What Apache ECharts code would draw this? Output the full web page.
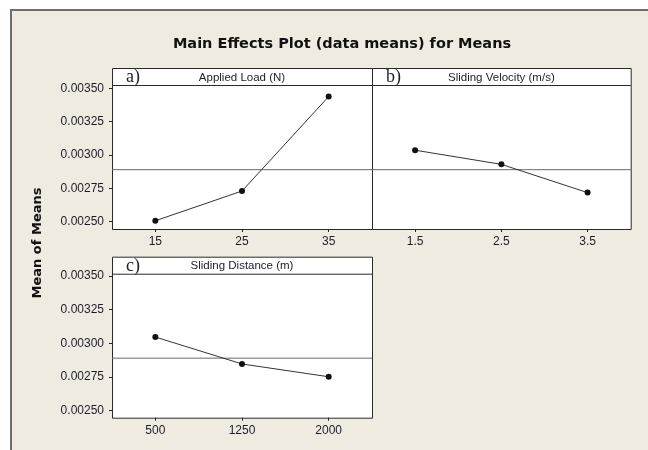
<!DOCTYPE html>
<html>
<head>
<meta charset="utf-8">
<script src="https://cdn.jsdelivr.net/npm/echarts@6/dist/echarts.min.js"></script>
<style>
  html, body { margin: 0; padding: 0; background: #ffffff; }
  #chart { width: 648px; height: 450px; }
</style>
</head>
<body>
<div id="chart"></div>
<script>
// data
const loadCats = ['15', '25', '35']
const loadMeans = [0.002507, 0.00273, 0.003438]
const velocityCats = ['1.5', '2.5', '3.5']
const velocityMeans = [0.003036, 0.00293, 0.002718]
const distanceCats = ['500', '1250', '2000']
const distanceMeans = [0.003047, 0.002847, 0.002752]
const grandMean = 0.00289
const yMin = 0.0025
const yMax = 0.0035
const yStep = 0.00025

const panelTitles = ['Applied Load (N)', 'Sliding Velocity (m/s)', 'Sliding Distance (m)']
const panelTags = ['a)', 'b)', 'c)']

const chart = echarts.init(document.getElementById('chart'))

const textColor = '#1c1c2c'
const labelFont = 'Liberation Sans'

// panel frames (header strip on top of plot area)
const panels = [
  { x: 112, y: 68, w: 260, h: 161, head: 17 },
  { x: 372, y: 68, w: 258.7, h: 161, head: 17 },
  { x: 112, y: 256.7, w: 260, h: 161, head: 17 }
]

const grids = [
  { left: 112, top: 88.3, width: 260, height: 133.4 },
  { left: 372, top: 88.3, width: 258.7, height: 133.4 },
  { left: 112, top: 276, width: 260, height: 134.7 }
]
const xOffsets = [7.3, 7.3, 7]
const cats = [loadCats, velocityCats, distanceCats]
const means = [loadMeans, velocityMeans, distanceMeans]

const graphics = [
  {
    type: 'rect',
    z: -20,
    shape: { x: 11, y: 10, width: 700, height: 500 },
    style: { fill: '#efebe1', stroke: '#6e6e6e', lineWidth: 2 }
  },
  {
    type: 'text',
    z: 10,
    x: 38,
    y: 243,
    rotation: Math.PI / 2,
    style: {
      text: 'Mean of Means',
      fill: '#111',
      font: 'bold 13px "DejaVu Sans"',
      align: 'center',
      verticalAlign: 'middle'
    }
  }
]

panels.forEach((p, i) => {
  graphics.push({
    type: 'rect',
    z: -10,
    shape: { x: p.x + 0.5, y: p.y + 0.5, width: p.w, height: p.h },
    style: { fill: '#ffffff', stroke: '#2a2a2a', lineWidth: 1 }
  })
  graphics.push({
    type: 'line',
    z: -5,
    shape: { x1: p.x, y1: p.y + p.head + 0.5, x2: p.x + p.w, y2: p.y + p.head + 0.5 },
    style: { stroke: '#2a2a2a', lineWidth: 1 }
  })
  graphics.push({
    type: 'text',
    z: 10,
    x: p.x + p.w / 2,
    y: p.y + p.head / 2 + 1,
    style: {
      text: panelTitles[i],
      fill: textColor,
      font: '11.5px "Liberation Sans"',
      align: 'center',
      verticalAlign: 'middle'
    }
  })
  graphics.push({
    type: 'text',
    z: 10,
    x: p.x + 14,
    y: p.y + p.head / 2 + 1,
    style: {
      text: panelTags[i],
      fill: textColor,
      font: '18px "Liberation Serif"',
      align: 'left',
      verticalAlign: 'middle'
    }
  })
})

// category axes for the factor levels, plus a hidden 0..1 value axis per
// panel so the grand-mean reference line spans the full panel width
const xAxes = []
grids.forEach((g, i) => {
  xAxes.push({
    type: 'category',
    gridIndex: i,
    data: cats[i],
    boundaryGap: true,
    offset: xOffsets[i],
    axisLine: { show: false },
    axisTick: { show: true, alignWithLabel: true, length: 3, lineStyle: { color: '#222' } },
    axisLabel: { color: textColor, fontFamily: labelFont, fontSize: 12, margin: 7 },
    splitLine: { show: false }
  })
})
grids.forEach((g, i) => {
  xAxes.push({
    type: 'value',
    gridIndex: i,
    min: 0,
    max: 1,
    show: false
  })
})

const series = []
means.forEach((m, i) => {
  series.push({
    type: 'line',
    xAxisIndex: 3 + i,
    yAxisIndex: i,
    data: [[0, grandMean], [1, grandMean]],
    showSymbol: false,
    silent: true,
    z: 1,
    lineStyle: { color: '#6a6a6a', width: 1 }
  })
  series.push({
    type: 'line',
    xAxisIndex: i,
    yAxisIndex: i,
    data: m,
    symbol: 'circle',
    symbolSize: 6,
    z: 3,
    itemStyle: { color: '#111' },
    lineStyle: { color: '#333', width: 1 }
  })
})

const option = {
  backgroundColor: '#ffffff',
  animation: false,
  title: {
    text: 'Main Effects Plot (data means) for Means',
    left: 337,
    top: 32,
    textAlign: 'center',
    textStyle: {
      fontFamily: 'DejaVu Sans',
      fontSize: 14.5,
      fontWeight: 'bold',
      color: '#111'
    }
  },
  grid: grids,
  xAxis: xAxes,
  yAxis: grids.map((g, i) => ({
    type: 'value',
    gridIndex: i,
    min: yMin,
    max: yMax,
    interval: yStep,
    axisLine: { show: false },
    axisTick: { show: i !== 1, length: 3, lineStyle: { color: '#222' } },
    axisLabel: {
      show: i !== 1,
      color: textColor,
      fontFamily: labelFont,
      fontSize: 12,
      margin: 8,
      formatter: v => v.toFixed(5)
    },
    splitLine: { show: false }
  })),
  series: series,
  graphic: graphics
}

chart.setOption(option)
</script>
</body>
</html>
